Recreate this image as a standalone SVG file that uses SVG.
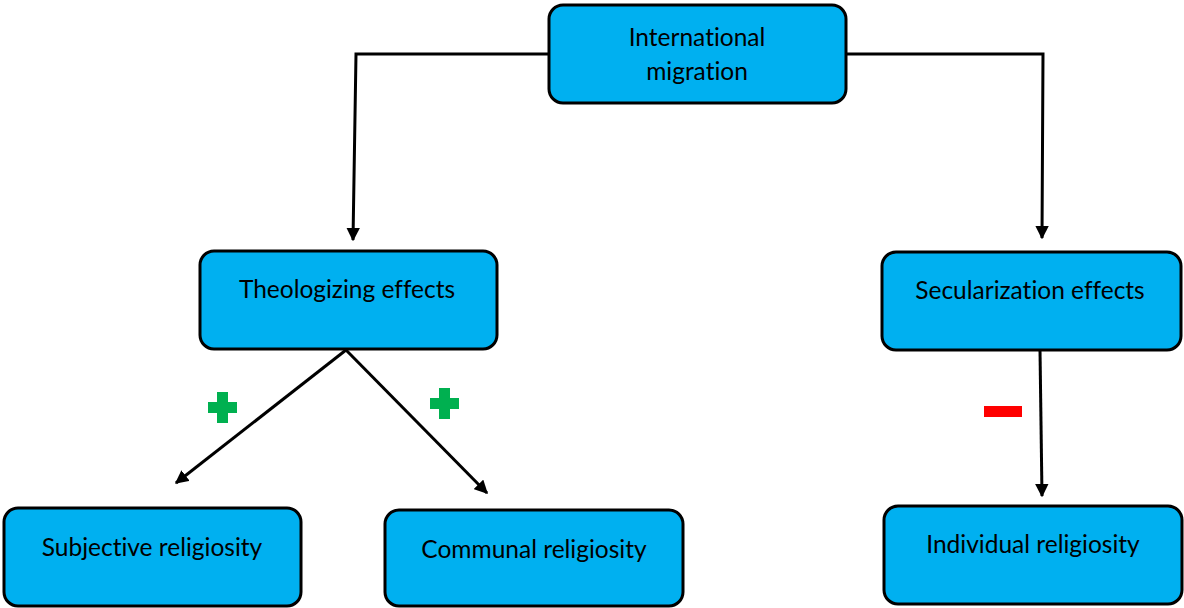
<svg xmlns="http://www.w3.org/2000/svg" width="1184" height="608" viewBox="0 0 1184 608">
<defs>
<style>
.box{fill:#00B0F0;stroke:#000;stroke-width:3}
.lbl{font-family:Lato,"Open Sans","Liberation Sans",sans-serif;font-size:24.5px;fill:#000;text-anchor:middle;font-variant-ligatures:none}
.con{fill:none;stroke:#000;stroke-width:3}
</style>
<marker id="ah" viewBox="0 0 10 10" refX="9" refY="5" markerWidth="4.5" markerHeight="4.5" orient="auto" markerUnits="strokeWidth">
<path d="M0,0 L10,5 L0,10 z" fill="#000"/>
</marker>
</defs>
<rect width="1184" height="608" fill="#fff"/>
<g id="connectors">
<polyline class="con" points="549,54 356,54 353,240" marker-end="url(#ah)"/>
<polyline class="con" points="846,54 1043,54 1042,238" marker-end="url(#ah)"/>
<line class="con" x1="346" y1="350" x2="176" y2="483" marker-end="url(#ah)"/>
<line class="con" x1="346" y1="350" x2="487" y2="493" marker-end="url(#ah)"/>
<line class="con" x1="1040" y1="350" x2="1042" y2="496" marker-end="url(#ah)"/>
</g>
<g id="signs">
<path d="M217,392 h11 v10 h9 v11 h-9 v10 h-11 v-10 h-9 v-11 h9 z" fill="#00B050"/>
<path d="M439,388 h11 v10 h9 v11 h-9 v10 h-11 v-10 h-9 v-11 h9 z" fill="#00B050"/>
<rect x="984" y="406" width="38" height="11" fill="#FF0000"/>
</g>
<g id="international-migration">
<rect class="box" x="549" y="5" width="297" height="98" rx="14"/>
<text class="lbl" x="697" y="46">International</text>
<text class="lbl" x="697" y="80">migration</text>
</g>
<g id="theologizing-effects">
<rect class="box" x="200" y="251" width="297" height="98" rx="14"/>
<text class="lbl" x="347" y="298">Theologizing effects</text>
</g>
<g id="secularization-effects">
<rect class="box" x="882" y="252" width="299" height="98" rx="14"/>
<text class="lbl" x="1030" y="299">Secularization effects</text>
</g>
<g id="subjective-religiosity">
<rect class="box" x="4" y="508" width="297" height="98" rx="14"/>
<text class="lbl" x="152" y="556">Subjective religiosity</text>
</g>
<g id="communal-religiosity">
<rect class="box" x="385" y="510" width="298" height="96" rx="14"/>
<text class="lbl" x="534" y="558">Communal religiosity</text>
</g>
<g id="individual-religiosity">
<rect class="box" x="884" y="506" width="298" height="98" rx="14"/>
<text class="lbl" x="1033" y="553">Individual religiosity</text>
</g>
</svg>
